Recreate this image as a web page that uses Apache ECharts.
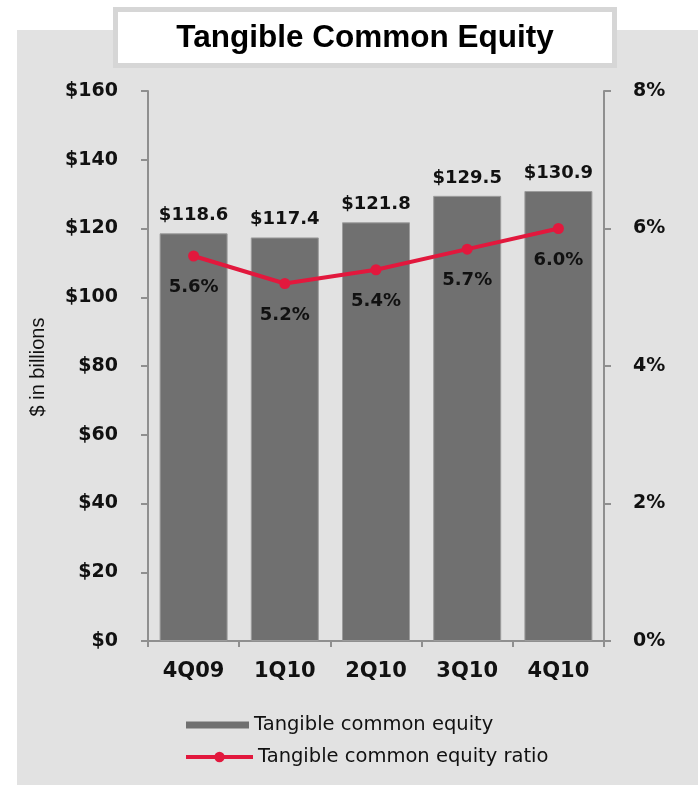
<!DOCTYPE html>
<html>
<head>
<meta charset="utf-8">
<script src="https://cdn.jsdelivr.net/npm/echarts@6/dist/echarts.min.js"></script>
<style>html,body{margin:0;padding:0;background:#fff}#c{width:698px;height:785px}</style>
</head>
<body>
<div id="c"></div>
<script>
const categories = ['4Q09', '1Q10', '2Q10', '3Q10', '4Q10'];
const equity = [118.6, 117.4, 121.8, 129.5, 130.9];
const ratio = [5.6, 5.2, 5.4, 5.7, 6.0];
const leftTicks = { min: 0, max: 160, interval: 20 };
const rightTicks = { min: 0, max: 8, interval: 2 };
const titleText = 'Tangible Common Equity';
const yName = '$ in billions';
const barName = 'Tangible common equity';
const lineName = 'Tangible common equity ratio';

const chart = echarts.init(document.getElementById('c'), null, { renderer: 'canvas' });
const axisGray = '#8f8f8f';
const boldNum = { fontFamily: 'DejaVu Sans', fontWeight: 'bold', color: '#111' };
const legendText = { fontFamily: 'DejaVu Sans', fontSize: 19.5, color: '#111' };

chart.setOption({
  animation: false,
  backgroundColor: '#ffffff',
  graphic: [
    { type: 'rect', z: -100, shape: { x: 17, y: 30, width: 681, height: 755 }, style: { fill: '#e2e2e2' } },
    { type: 'rect', z: 100, shape: { x: 115.5, y: 9.5, width: 499, height: 56 }, style: { fill: '#ffffff', stroke: '#d6d6d6', lineWidth: 5 } },
    { type: 'text', z: 101, x: 365, y: 38.5, style: { text: titleText, fontFamily: 'Liberation Sans', fontWeight: 'bold', fontSize: 31.5, fill: '#000', align: 'center', verticalAlign: 'middle' } },
    { type: 'text', z: 101, x: 38, y: 367, rotation: Math.PI / 2, style: { text: yName, fontFamily: 'Liberation Sans', fontSize: 20, fill: '#111', align: 'center', verticalAlign: 'middle' } }
  ],
  grid: { left: 148, right: 94, top: 91, bottom: 144, containLabel: false },
  legend: [
    { data: [{ name: barName, icon: 'rect' }], left: 186, top: 715, padding: 0, itemWidth: 63, itemHeight: 7, orient: 'vertical',
      itemStyle: { borderWidth: 0 }, textStyle: legendText },
    { data: [lineName], left: 184, top: 747, padding: 0, itemWidth: 67, itemHeight: 13, orient: 'vertical',
      lineStyle: { width: 4 }, textStyle: legendText }
  ],
  xAxis: {
    type: 'category',
    data: categories,
    axisLine: { lineStyle: { color: axisGray, width: 2 } },
    axisTick: { show: true, length: 6, lineStyle: { color: axisGray, width: 2 } },
    axisLabel: Object.assign({ fontSize: 21, margin: 20 }, boldNum)
  },
  yAxis: [
    {
      type: 'value', min: leftTicks.min, max: leftTicks.max, interval: leftTicks.interval,
      position: 'left',
      axisLine: { show: true, lineStyle: { color: axisGray, width: 2 } },
      axisTick: { show: true, length: 7, lineStyle: { color: axisGray, width: 2 } },
      splitLine: { show: false },
      axisLabel: Object.assign({ fontSize: 19, margin: 30, formatter: v => '$' + v }, boldNum)
    },
    {
      type: 'value', min: rightTicks.min, max: rightTicks.max, interval: rightTicks.interval,
      position: 'right',
      axisLine: { show: true, lineStyle: { color: axisGray, width: 2 } },
      axisTick: { show: true, length: 7, lineStyle: { color: axisGray, width: 2 } },
      splitLine: { show: false },
      axisLabel: Object.assign({ fontSize: 19, margin: 29, formatter: v => v + '%' }, boldNum)
    }
  ],
  series: [
    {
      name: barName, type: 'bar', data: equity, yAxisIndex: 0,
      barWidth: 68,
      itemStyle: { color: '#707070', borderColor: '#9c9c9c', borderWidth: 1 },
      label: Object.assign({ show: true, position: 'top', distance: 9, fontSize: 18,
        formatter: p => '$' + p.value.toFixed(1) }, boldNum)
    },
    {
      name: lineName, type: 'line', data: ratio, yAxisIndex: 1,
      symbol: 'circle', symbolSize: 11,
      lineStyle: { color: '#e2183d', width: 4 },
      itemStyle: { color: '#e2183d' },
      z: 5,
      label: Object.assign({ show: true, position: 'bottom', distance: 17, fontSize: 18,
        formatter: p => p.value.toFixed(1) + '%' }, boldNum)
    }
  ]
});
</script>
</body>
</html>
